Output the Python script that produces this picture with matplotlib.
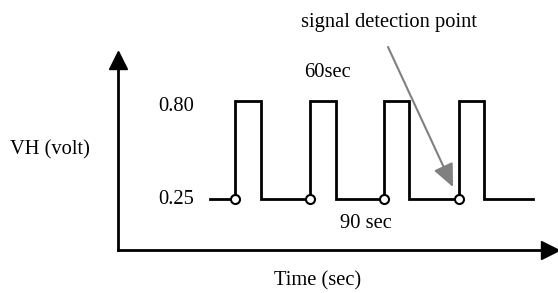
import matplotlib
matplotlib.use("Agg")
import matplotlib.pyplot as plt

plt.rcParams['font.family'] = ['Liberation Serif', 'DejaVu Serif']

# signal levels (volt)
low_level = 0.25
high_level = 0.80
level_labels = ["0.25", "0.80"]

# signal timing (arbitrary time units along the axis)
t_start = 92
rise_times = [117, 192, 266, 341]
fall_times = [143, 218, 291, 366]
t_end = 415

# texts
x_title = "Time (sec)"
y_title = "VH (volt)"
high_text = "60sec"
low_text = "90 sec"
detect_text = "signal detection point"

FS = 14.8
W, H = 558, 293
fig = plt.figure(figsize=(W / 100, H / 100), dpi=100)
ax = fig.add_axes([117.7 / W, 43 / H, (550 - 117.7) / W, 190 / H])
ax.set_xlim(0, 432.3)
ax.set_ylim(-0.036, 1.030)

for s in ['top', 'right']:
    ax.spines[s].set_visible(False)
for s in ['left', 'bottom']:
    ax.spines[s].set_linewidth(2)
ax.set_xticks([])
ax.set_yticks([])

# axis arrow heads
ax.plot(1, 0, '>k', ms=13, transform=ax.transAxes, clip_on=False)
ax.plot(0, 1, '^k', ms=13, transform=ax.transAxes, clip_on=False)

# build square wave
xs = [t_start]
ys = [low_level]
for r, f in zip(rise_times, fall_times):
    xs += [r, r, f, f]
    ys += [low_level, high_level, high_level, low_level]
xs.append(t_end)
ys.append(low_level)
ax.plot(xs, ys, color='black', lw=2, solid_joinstyle='miter', zorder=2)

# detection points
ax.plot(rise_times, [low_level] * len(rise_times), 'o', ms=6.5,
        mfc='white', mec='black', mew=1.5, zorder=3)

# level labels
ax.text(t_start - 16, low_level, level_labels[0], ha='right', va='center', fontsize=FS)
ax.text(t_start - 16, high_level - 0.03, level_labels[1], ha='right', va='center', fontsize=FS)

# interval labels
ax.text(210, 0.935, high_text, ha='center', va='baseline', fontsize=FS)
ax.text(248, 0.085, low_text, ha='center', va='baseline', fontsize=FS)

# detection arrow
ax.annotate("", xy=(335.3, 0.317), xytext=(270.3, 1.103),
            arrowprops=dict(arrowstyle='-|>,head_length=1.0,head_width=0.45',
                            mutation_scale=14, color='#808080', lw=1.5,
                            shrinkA=0, shrinkB=0))
fig.text(389 / W, 1 - 27 / H, detect_text, ha='center', va='baseline', fontsize=FS)

fig.text(50 / W, 1 - 154 / H, y_title, ha='center', va='baseline', fontsize=FS)
fig.text(318 / W, 1 - 285 / H, x_title, ha='center', va='baseline', fontsize=FS)

fig.savefig("out.png", dpi=100)
